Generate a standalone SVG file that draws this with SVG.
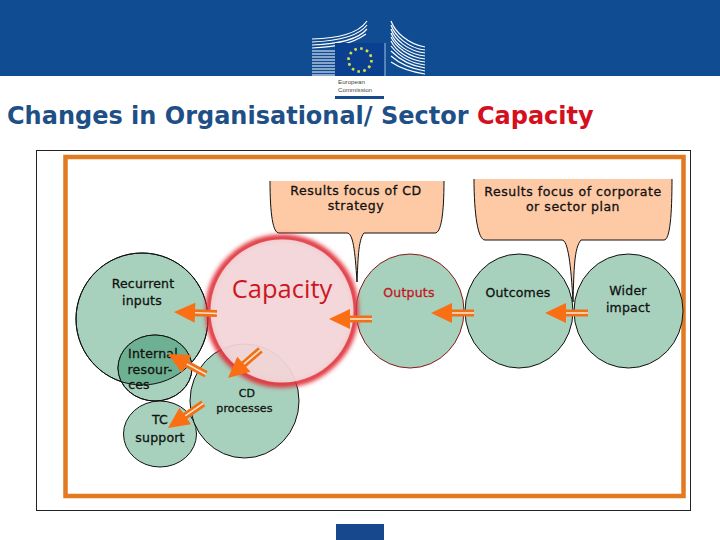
<svg xmlns="http://www.w3.org/2000/svg" width="720" height="540" viewBox="0 0 720 540">
<style>
.t{font-family:"DejaVu Sans",Verdana,sans-serif;font-size:12.5px;fill:#111;stroke:#111;stroke-width:.3px;text-anchor:middle;letter-spacing:.2px}
.w{letter-spacing:.55px}
.g{fill:#a7d1bd;stroke:#111;stroke-width:1}
.c{fill:#fec9a5;stroke:#111;stroke-width:1}
</style>
<defs>
<filter id="blur" x="-10%" y="-10%" width="120%" height="120%"><feGaussianBlur stdDeviation="2"/></filter>
<clipPath id="inRecurrent"><circle cx="142" cy="319" r="66"/></clipPath>
<g id="arrow">
<rect x="19" y="-3.500" width="24" height="7" fill="#f0701a"/>
<line x1="21" y1="0" x2="43" y2="0" stroke="#fde3c8" stroke-width="1.6"/>
<polygon points="0,0 21,-10 21,10" fill="#fa6e14"/>
</g>
</defs>
<rect width="720" height="540" fill="#fff"/>
<rect width="720" height="76" fill="#0f4c92"/>
<g id="logo">
<g stroke="#fff" stroke-width="1.2" fill="none">
<path d="M312 39C338 38 358 34 367 21"/>
<path d="M312 42C338 41 358 37 367 25"/>
<path d="M312 45C338 44 358 40 367 29"/>
<path d="M312 48C335 47 352 44 366 34"/>
<path d="M312 51H335M312 54H335M312 57H335M312 60H335M312 63H335M312 66H335M312 69H335M312 72H335M312 75H335"/>
<path d="M391 21C395 32 408 44 425 47"/>
<path d="M391 25C395 36 408 48 425 50"/>
<path d="M391 29C395 40 408 51 425 53"/>
<path d="M391 33C395 44 408 54 425 56"/>
<path d="M391 37C396 47 408 57 425 59"/>
<path d="M391 41C396 51 408 60 425 62"/>
<path d="M391 46C398 55 410 63 425 65"/>
<path d="M391 51C400 60 412 66 425 68"/>
<path d="M391 56C400 64 412 69 425 71"/>
<path d="M391 62C400 68 412 72 425 74"/>
</g>
<rect x="335" y="43" width="50" height="33" fill="#0b3f8f"/>
<line x1="385" y1="43" x2="385" y2="76" stroke="#9fc3e0" stroke-width="1"/>
<circle cx="360" cy="60" r="11.500" fill="none" stroke="#d6e04a" stroke-width="2.600" stroke-dasharray="2.600 3.400"/>
<text x="338" y="84" font-family="'Liberation Sans',Arial,sans-serif" font-size="6.200" fill="#444">European</text>
<text x="338" y="92" font-family="'Liberation Sans',Arial,sans-serif" font-size="6.200" fill="#444">Commission</text>
<rect x="335" y="96" width="49" height="3" fill="#174a8c"/>
</g>
<text id="title" x="7" y="124" font-family="'DejaVu Sans',Verdana,sans-serif" font-size="24" font-weight="700" fill="#1f4f87">Changes in Organisational/ Sector <tspan fill="#d40f1e">Capacity</tspan></text>
<rect x="36.500" y="150.500" width="654" height="360" fill="#fff" stroke="#222" stroke-width="1"/>
<rect x="65.500" y="157" width="618" height="339" fill="none" stroke="#e27a22" stroke-width="4.500"/>
<g id="callout-cd">
<path class="c" d="M270 180C270 215 273 233 279 233H347C353 233 355 250 357 282C358 262 358 240 364 233H435C441 233 444 215 444 180Z"/>
<path d="M269 180H445" stroke="#fff" stroke-width="2"/>
<text class="t w" x="356" y="195">Results focus of CD</text>
<text class="t w" x="356" y="210">strategy</text>
</g>
<g id="callout-plan">
<path class="c" d="M474 178C474 215 478 240 485 240H562C568 240 571 265 573 302C574 270 574 248 581 240H664C670 240 672 215 672 178Z"/>
<path d="M473 178H673" stroke="#fff" stroke-width="2"/>
<text class="t w" x="573" y="196">Results focus of corporate</text>
<text class="t w" x="573" y="211">or sector plan</text>
</g>
<g id="recurrent"><circle class="g" cx="142" cy="319" r="66"/></g>
<g id="internal">
<ellipse cx="155" cy="368" rx="37" ry="33" class="g"/>
<ellipse cx="155" cy="368" rx="37" ry="33" fill="#6eb092" stroke="none" clip-path="url(#inRecurrent)"/>
<ellipse cx="155" cy="368" rx="37" ry="33" fill="none" stroke="#111"/>
<circle cx="142" cy="319" r="66" fill="none" stroke="#111"/>
</g>
<g id="tc"><ellipse class="g" cx="160" cy="434" rx="36.500" ry="33"/></g>
<g id="cd"><ellipse class="g" cx="244.500" cy="401" rx="54.500" ry="57"/></g>
<g id="outputs"><ellipse cx="410" cy="311" rx="54" ry="57" fill="#a7d1bd" stroke="#8b1a1a"/></g>
<g id="outcomes"><ellipse class="g" cx="519" cy="311" rx="54" ry="57"/></g>
<g id="wider"><ellipse class="g" cx="628.500" cy="311" rx="54.500" ry="57"/></g>
<g id="capacity">
<circle cx="282" cy="311" r="73" fill="none" stroke="#e0303a" stroke-width="7" filter="url(#blur)"/>
<circle cx="282" cy="311" r="71.500" fill="#f3d4d8" fill-opacity=".94"/>
<text x="282" y="298" text-anchor="middle" font-family="'Open Sans','Noto Sans',sans-serif" font-size="25.500" fill="#cc1722">Capacity</text>
</g>
<text class="t" x="143" y="288">Recurrent</text>
<text class="t" x="142" y="305">inputs</text>
<text class="t" x="153" y="358">Internal</text>
<text class="t" x="150" y="374">resour-</text>
<text class="t" x="139" y="389">ces</text>
<text class="t" x="160" y="424">TC</text>
<text class="t" x="160" y="442">support</text>
<text class="t" x="247" y="397" style="font-size:11px">CD</text>
<text class="t" x="244.500" y="412" style="font-size:11px">processes</text>
<text class="t" x="409" y="297" style="font-size:12.500px;fill:#c4161c;stroke:#c4161c">Outputs</text>
<text class="t" x="518" y="297">Outcomes</text>
<text class="t" x="628" y="295">Wider</text>
<text class="t" x="628" y="312">impact</text>
<g id="connectors">
<use href="#arrow" transform="translate(174 312) rotate(2)"/>
<use href="#arrow" transform="translate(329 319)"/>
<use href="#arrow" transform="translate(431 313)"/>
<use href="#arrow" transform="translate(545 313)"/>
<use href="#arrow" transform="translate(168 354) rotate(28)"/>
<use href="#arrow" transform="translate(228 378) rotate(-41)"/>
<use href="#arrow" transform="translate(168 428) rotate(-35)"/>
</g>
<rect x="336" y="524" width="48" height="16" fill="#17478c"/>
</svg>
